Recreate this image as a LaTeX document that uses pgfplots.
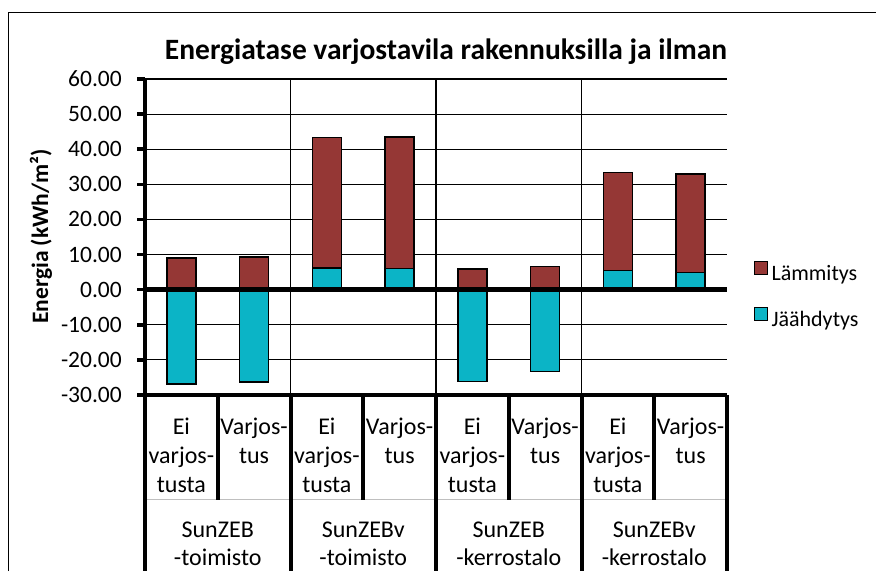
\documentclass[border=0pt]{standalone}
\usepackage{fontspec}
\setmainfont{Carlito}
\usepackage{pgfplots}
\pgfplotsset{compat=1.18}
\definecolor{heat}{RGB}{149,55,53}
\definecolor{cool}{RGB}{11,180,198}
\begin{document}
\begin{tikzpicture}[x=1pt,y=1pt]
\useasboundingbox (0,0) rectangle (876,571);
\draw[line width=1.5pt] (8.5,0) -- (8.5,558.5) -- (876,558.5);
\begin{axis}[
  at={(145pt,176pt)}, anchor=south west,
  scale only axis, width=582pt, height=316pt,
  xmin=-0.5, xmax=7.5, ymin=-30, ymax=60,
  xtick=\empty,
  ytick={-30,-20,...,60},
  ytick pos=left,
  tick align=outside,
  major tick length=8pt,
  y tick style={black, line width=3.5pt},
  axis line style={draw=none},
  ymajorgrids, grid style={black, line width=1.2pt},
  clip=false,
  yticklabel style={font=\fontsize{23.5}{28}\selectfont, inner sep=0pt, anchor=east, xshift=-15pt,
    /pgf/number format/fixed, /pgf/number format/fixed zerofill,
    /pgf/number format/precision=2, /pgf/number format/assume math mode=true},
  legend style={at={(1,0.313)}, anchor=west, xshift=27pt, draw=none, fill=none,
    inner xsep=0pt, inner ysep=0pt, row sep=22pt,
    font=\fontsize{22}{26}\selectfont,
    nodes={inner sep=0pt, text height=15pt, text depth=5pt, font=\fontsize{22}{26}\selectfont}},
  legend cell align=left,
]
\addplot[ybar, bar width=0.4, bar shift=0pt, fill=heat, draw=black, line width=1.5pt,
  legend image code/.code={\draw[fill=heat, draw=black, line width=1.2pt] (0pt,0.5pt) rectangle (13pt,13.5pt); \path (16pt,0pt);}]
  coordinates {(0,9.0) (1,9.3) (2,43.4) (3,43.5) (4,5.9) (5,6.6) (6,33.3) (7,32.9)};
\addlegendentry{Lämmitys}
\addplot[ybar, bar width=0.4, bar shift=0pt, fill=cool, draw=black, line width=1.5pt,
  legend image code/.code={\draw[fill=cool, draw=black, line width=1.2pt] (0pt,0.5pt) rectangle (13pt,13.5pt); \path (16pt,0pt);}]
  coordinates {(0,-26.9) (1,-26.3) (2,6.2) (3,6.0) (4,-26.2) (5,-23.3) (6,5.5) (7,4.9)};
\addlegendentry{Jäähdytys}
\draw[line width=1.2pt] (axis cs:1.5,-30) -- (axis cs:1.5,60);
\draw[line width=1.2pt] (axis cs:3.5,-30) -- (axis cs:3.5,60);
\draw[line width=1.2pt] (axis cs:5.5,-30) -- (axis cs:5.5,60);
\draw[line width=4.5pt] (axis cs:-0.5,0) -- (axis cs:7.5,0);
\draw[line width=4pt] (axis cs:-0.5,-30) -- (axis cs:7.5,-30);
\draw[line width=4pt] (axis cs:-0.5,-30) -- (axis cs:-0.5,60);
\end{axis}
% category table below the axis
\draw[gray!50, line width=0.8pt] (145,72) -- (727,72);
\foreach \xx in {217.75,363.25,508.75,654.25} {\draw[line width=4pt] (\xx,176) -- (\xx,71);}
\foreach \xx in {145,290.5,436,581.5,727} {\draw[line width=4pt] (\xx,176) -- (\xx,0);}
\begin{scope}[every node/.style={font=\fontsize{24}{28}\selectfont, anchor=base, inner sep=0pt}]
\foreach \i in {0,2,4,6} {
  \pgfmathsetmacro{\cx}{181.375+72.75*\i}
  \node at (\cx,137) {Ei};
  \node at (\cx,108) {varjos-};
  \node at (\cx,79) {tusta};
}
\foreach \i in {1,3,5,7} {
  \pgfmathsetmacro{\cx}{181.375+72.75*\i}
  \node at (\cx,137) {Varjos-};
  \node at (\cx,108) {tus};
}
\node at (217.75,34) {SunZEB};   \node at (217.75,6) {-toimisto};
\node at (363.25,34) {SunZEBv};  \node at (363.25,6) {-toimisto};
\node at (508.75,34) {SunZEB};   \node at (508.75,6) {-kerrostalo};
\node at (654.25,34) {SunZEBv};  \node at (654.25,6) {-kerrostalo};
\end{scope}
\node[font=\bfseries\fontsize{29.5}{34}\selectfont, anchor=base, inner sep=0pt] at (446,511) {Energiatase varjostavila rakennuksilla ja ilman};
\node[rotate=90, anchor=base, inner sep=0pt, font=\bfseries\fontsize{23.5}{28}\selectfont] at (48,334.5) {Energia (kWh/m²)};
\end{tikzpicture}
\end{document}
